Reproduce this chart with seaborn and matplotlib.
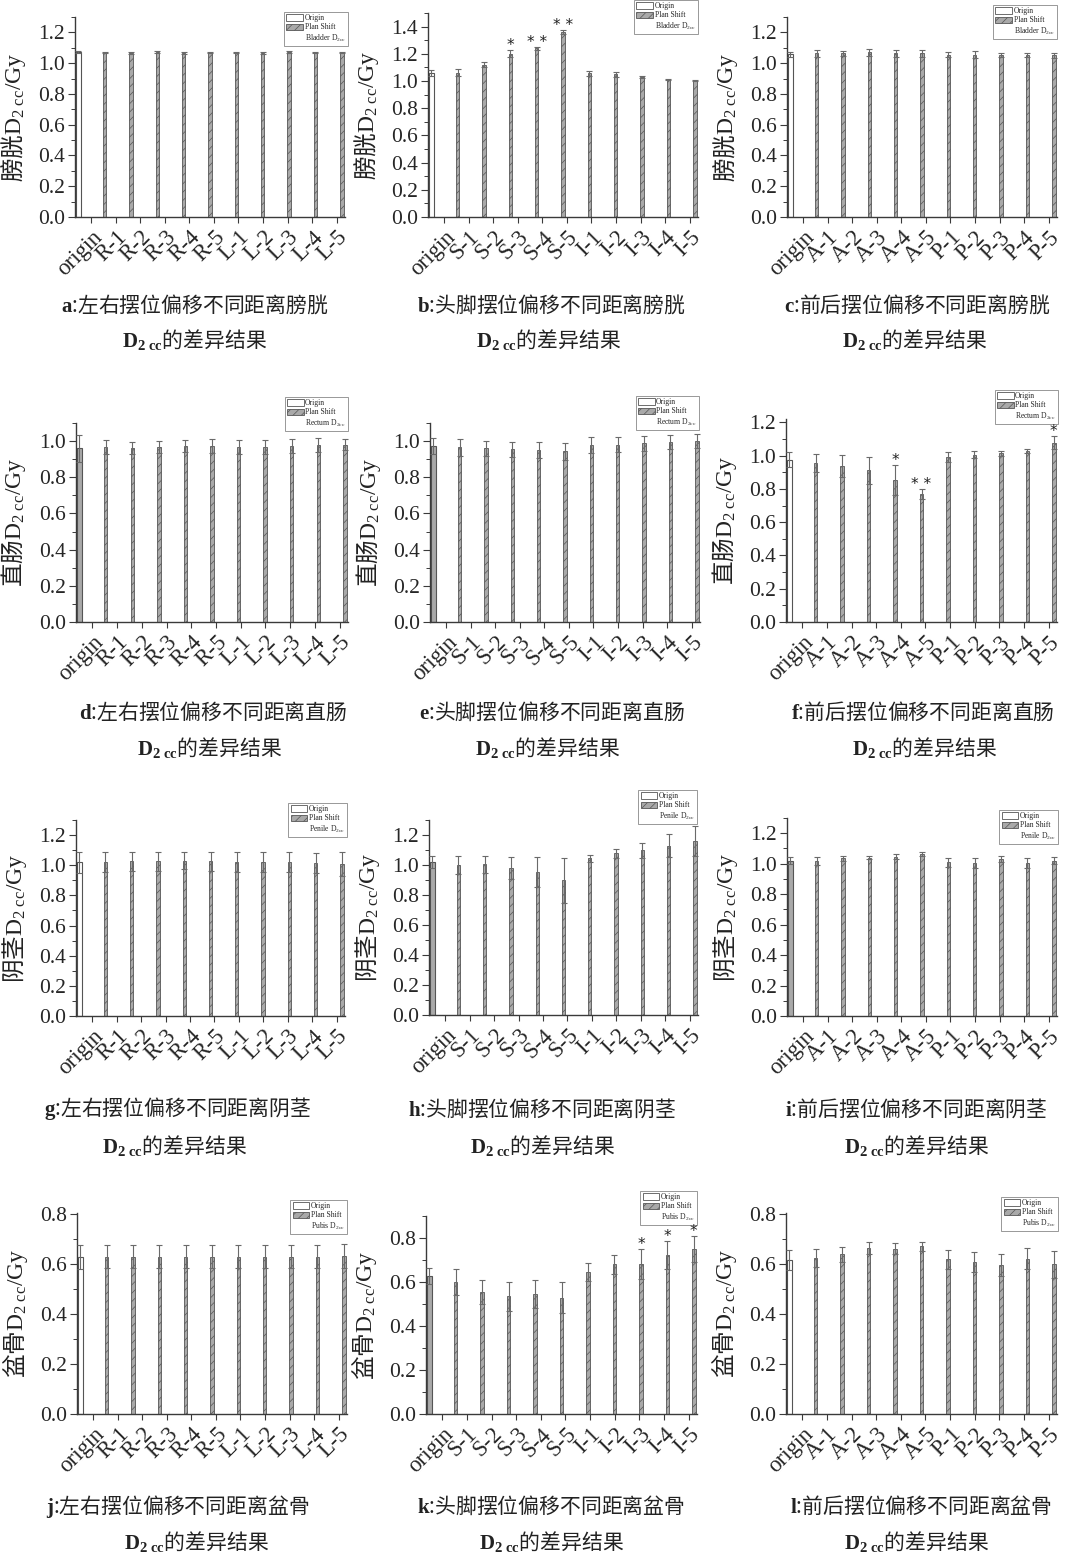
import matplotlib
matplotlib.use("Agg")
import matplotlib.pyplot as plt
import seaborn as sns
import numpy as np
import pandas as pd
from matplotlib.patches import Patch
from matplotlib.lines import Line2D
from matplotlib.ticker import MultipleLocator

sns.set_style("ticks")
plt.rcParams["font.family"] = ["Liberation Serif", "Noto Sans CJK SC"]
# mathtext: plain text around the math uses the Text's own font (CJK below),
# Latin symbols go through \mathit / \mathbf in serif
plt.rcParams["mathtext.fontset"] = "custom"
plt.rcParams["mathtext.rm"] = "Liberation Serif"
plt.rcParams["mathtext.it"] = "Liberation Serif"
plt.rcParams["mathtext.bf"] = "Liberation Serif:bold"
plt.rcParams["hatch.linewidth"] = 0.5
plt.rcParams["axes.unicode_minus"] = False
CJK = "Noto Sans CJK SC"

# ---- categories ----
lr_labels = ["origin", "R-1", "R-2", "R-3", "R-4", "R-5", "L-1", "L-2", "L-3", "L-4", "L-5"]
si_labels = ["origin", "S-1", "S-2", "S-3", "S-4", "S-5", "I-1", "I-2", "I-3", "I-4", "I-5"]
ap_labels = ["origin", "A-1", "A-2", "A-3", "A-4", "A-5", "P-1", "P-2", "P-3", "P-4", "P-5"]

# ---- D2cc means (Gy) and error ----
bladder_lr = [1.07, 1.07, 1.065, 1.07, 1.065, 1.07, 1.07, 1.065, 1.07, 1.07, 1.07]
bladder_lr_err = [0.006, 0.005, 0.005, 0.006, 0.005, 0.005, 0.005, 0.005, 0.006, 0.005, 0.005]
bladder_si = [1.06, 1.06, 1.12, 1.20, 1.24, 1.36, 1.057, 1.05, 1.03, 1.01, 1.005]
bladder_si_err = [0.02, 0.025, 0.02, 0.027, 0.012, 0.012, 0.018, 0.017, 0.005, 0.003, 0.003]
bladder_ap = [1.058, 1.063, 1.063, 1.07, 1.063, 1.063, 1.056, 1.056, 1.052, 1.052, 1.052]
bladder_ap_err = [0.015, 0.02, 0.017, 0.024, 0.02, 0.025, 0.017, 0.02, 0.012, 0.015, 0.017]

rectum_lr = [0.96, 0.968, 0.963, 0.968, 0.972, 0.972, 0.968, 0.968, 0.972, 0.978, 0.981]
rectum_lr_err = [0.073, 0.037, 0.034, 0.034, 0.035, 0.037, 0.04, 0.04, 0.04, 0.04, 0.033]
rectum_si = [0.972, 0.965, 0.96, 0.954, 0.95, 0.944, 0.978, 0.981, 0.987, 0.996, 1.0]
rectum_si_err = [0.043, 0.045, 0.043, 0.043, 0.043, 0.046, 0.043, 0.04, 0.04, 0.037, 0.037]
rectum_ap = [0.975, 0.956, 0.936, 0.912, 0.856, 0.771, 0.99, 1.005, 1.015, 1.03, 1.077]
rectum_ap_err = [0.045, 0.055, 0.065, 0.08, 0.09, 0.03, 0.03, 0.02, 0.015, 0.012, 0.04]

penile_lr = [1.02, 1.02, 1.025, 1.025, 1.03, 1.025, 1.02, 1.02, 1.02, 1.015, 1.01]
penile_lr_err = [0.07, 0.065, 0.065, 0.065, 0.055, 0.065, 0.065, 0.065, 0.068, 0.068, 0.08]
penile_si = [1.02, 1.0, 1.005, 0.98, 0.955, 0.9, 1.045, 1.08, 1.1, 1.13, 1.157]
penile_si_err = [0.04, 0.06, 0.055, 0.075, 0.1, 0.15, 0.025, 0.03, 0.05, 0.078, 0.1]
penile_ap = [1.02, 1.02, 1.035, 1.04, 1.045, 1.065, 1.01, 1.005, 1.03, 1.005, 1.02]
penile_ap_err = [0.025, 0.026, 0.015, 0.008, 0.017, 0.012, 0.03, 0.035, 0.02, 0.035, 0.025]

pubis_lr = [0.63, 0.63, 0.63, 0.63, 0.63, 0.63, 0.63, 0.63, 0.63, 0.63, 0.632]
pubis_lr_err = [0.048, 0.046, 0.046, 0.046, 0.046, 0.046, 0.046, 0.046, 0.046, 0.047, 0.048]
pubis_si = [0.627, 0.6, 0.554, 0.535, 0.544, 0.529, 0.645, 0.68, 0.68, 0.723, 0.75]
pubis_si_err = [0.036, 0.057, 0.053, 0.065, 0.063, 0.07, 0.042, 0.045, 0.068, 0.062, 0.06]
pubis_ap = [0.615, 0.626, 0.639, 0.664, 0.662, 0.672, 0.619, 0.607, 0.597, 0.621, 0.599]
pubis_ap_err = [0.04, 0.036, 0.03, 0.025, 0.023, 0.018, 0.037, 0.04, 0.045, 0.042, 0.053]

# significance marks (category index -> mark)
sig_bladder_si = {3: "*", 4: "**", 5: "**"}
sig_rectum_ap = {4: "*", 5: "**", 10: "*"}
sig_pubis_si = {8: "*", 9: "*", 10: "*"}

organ_cn = ["膀胱", "直肠", "阴茎", "盆骨"]
organ_en = ["Bladder", "Rectum", "Penile", "Pubis"]
shift_cn = ["左右", "头脚", "前后"]
panel_letters = ["a", "b", "c", "d", "e", "f", "g", "h", "i", "j", "k", "l"]

panels = [
    (lr_labels, bladder_lr, bladder_lr_err, {}),
    (si_labels, bladder_si, bladder_si_err, sig_bladder_si),
    (ap_labels, bladder_ap, bladder_ap_err, {}),
    (lr_labels, rectum_lr, rectum_lr_err, {}),
    (si_labels, rectum_si, rectum_si_err, {}),
    (ap_labels, rectum_ap, rectum_ap_err, sig_rectum_ap),
    (lr_labels, penile_lr, penile_lr_err, {}),
    (si_labels, penile_si, penile_si_err, {}),
    (ap_labels, penile_ap, penile_ap_err, {}),
    (lr_labels, pubis_lr, pubis_lr_err, {}),
    (si_labels, pubis_si, pubis_si_err, sig_pubis_si),
    (ap_labels, pubis_ap, pubis_ap_err, {}),
]

# ---- layout (pixels): left, right, top, bottom ----
W, H = 1065, 1556
rects = [
    (75, 345, 17, 217), (428, 698, 13, 217), (787, 1057, 17, 217),
    (76, 348, 423, 622), (430, 700, 423, 622), (786, 1057, 419, 622),
    (76, 345, 820, 1016), (429, 698, 820, 1015), (787, 1057, 818, 1016),
    (77, 347, 1213, 1414), (426, 697, 1216, 1414), (786, 1057, 1213, 1414),
]
ylims = [1.3, 1.5, 1.3, 1.1, 1.1, 1.22, 1.3, 1.3, 1.3, 0.805, 0.9, 0.805]
ymaxtick = [1.2, 1.4, 1.2, 1.0, 1.0, 1.2, 1.2, 1.2, 1.2, 0.8, 0.8, 0.8]
legend_anchor = [
    (348, 12), (698, 0), (1057, 5),
    (348, 397), (699, 396), (1058, 390),
    (347, 803), (697, 790), (1058, 810),
    (347, 1200), (697, 1191), (1058, 1197),
]
origin_filled = [False, False, False, True, True, False, False, True, True, False, True, False]
caption_y = [(305, 340), (712, 748), (1109, 1145), (1506, 1541)]
caption_cx = [
    (195, 195), (551, 549), (917, 915),
    (213, 210), (552, 548), (923, 925),
    (178, 175), (542, 543), (916, 917),
    (178, 197), (551, 552), (921, 917),
]

BAR_GREY = "#a9a9a9"
EDGE = "#555555"
AXC = "#3a3a3a"
TXT = "#222222"

fig = plt.figure(figsize=(W / 100, H / 100), dpi=100)

for k, (labels, vals, errs, sig) in enumerate(panels):
    l, r, t, b = rects[k]
    ax = fig.add_axes([l / W, 1 - b / H, (r - l) / W, (b - t) / H])
    df = pd.DataFrame({"pos": labels, "dose": vals})
    sns.barplot(data=df, x="pos", y="dose", ax=ax, order=labels, width=0.13,
                color=BAR_GREY, errorbar=None, saturation=1, linewidth=0.6,
                edgecolor=EDGE)
    for j, p in enumerate(ax.patches):
        if j == 0:
            p.set_facecolor(BAR_GREY if origin_filled[k] else "white")
            p.set_linewidth(0.8)
            cx = p.get_x() + p.get_width() / 2
            p.set_width(0.19)
            p.set_x(cx - 0.095)
        else:
            p.set_hatch("////")
    ax.errorbar(range(len(vals)), vals, yerr=errs, fmt="none", ecolor="#6a6a6a",
                elinewidth=0.8, capsize=2, capthick=0.8, zorder=5)
    for idx, mark in sig.items():
        ax.text(idx, vals[idx] + errs[idx], " ".join(mark),
                ha="center", va="baseline", fontsize=11, color=TXT,
                family="DejaVu Sans", zorder=20)

    ax.set_xlim(-0.12, len(labels) - 1 + 0.12)
    ax.set_ylim(0, ylims[k])
    nt = int(round(ymaxtick[k] / 0.2)) + 1
    ax.set_yticks([round(0.2 * i, 1) for i in range(nt)])
    ax.set_yticklabels([f"{0.2 * i:.1f}" for i in range(nt)])
    ax.yaxis.set_minor_locator(MultipleLocator(0.1))
    ax.set_xticks(np.linspace(0.5, 9.8, len(labels)))
    ax.set_xticklabels(labels, rotation=45, ha="right", va="top",
                       rotation_mode="anchor", fontsize=16.5)
    ax.tick_params(axis="y", labelsize=15.5, direction="out", length=5, width=0.8,
                   color=AXC, pad=2)
    ax.tick_params(axis="y", which="minor", direction="out", length=3, width=0.7,
                   color=AXC)
    ax.tick_params(axis="x", direction="out", length=4, width=0.8, color=AXC, pad=3)
    for s in ["top", "right"]:
        ax.spines[s].set_visible(False)
    for s in ["left", "bottom"]:
        ax.spines[s].set_color(AXC)
        ax.spines[s].set_linewidth(1.0)
    ax.set_xlabel("")
    ax.set_ylabel(organ_cn[k // 3] + r"$\mathit{D}_{\mathit{2\ cc}}\mathit{/Gy}$",
                  fontsize=17, color=TXT, family=CJK)
    ax.yaxis.set_label_coords(-0.175, 0.5)

    handles = [
        Patch(facecolor="white", edgecolor=EDGE, linewidth=0.6),
        Patch(facecolor=BAR_GREY, edgecolor=EDGE, hatch="////", linewidth=0.6),
        Line2D([], [], alpha=0),
    ]
    lab3 = r"$\mathit{" + organ_en[k // 3] + r"\ D}_{\mathit{2cc}}$"
    lx, ly = legend_anchor[k]
    leg = ax.legend(handles, ["Origin", "Plan Shift", lab3], loc="upper right",
                    bbox_to_anchor=(lx / W, 1 - ly / H),
                    bbox_transform=fig.transFigure, fontsize=5.5, frameon=True,
                    fancybox=False, framealpha=1, edgecolor="#888888",
                    handlelength=2.2, handleheight=0.9, handletextpad=0.2,
                    labelspacing=0.15, borderpad=0.3, borderaxespad=0)
    leg.get_frame().set_linewidth(0.6)
    leg.set_zorder(8)

    # caption below the panel
    row = k // 3
    cy1, cy2 = caption_y[row]
    cx1, cx2 = caption_cx[k]
    fig.text(cx1 / W, 1 - cy1 / H,
             r"$\mathbf{" + panel_letters[k] + r"}$:" + shift_cn[k % 3] + "摆位偏移不同距离" + organ_cn[row],
             ha="center", va="center", fontsize=15, color=TXT, family=CJK)
    fig.text(cx2 / W, 1 - cy2 / H, r"$\mathbf{D}_{\mathbf{2\ cc}}$的差异结果",
             ha="center", va="center", fontsize=15, color=TXT, family=CJK)

fig.savefig("out.png", dpi=100, facecolor="white")
